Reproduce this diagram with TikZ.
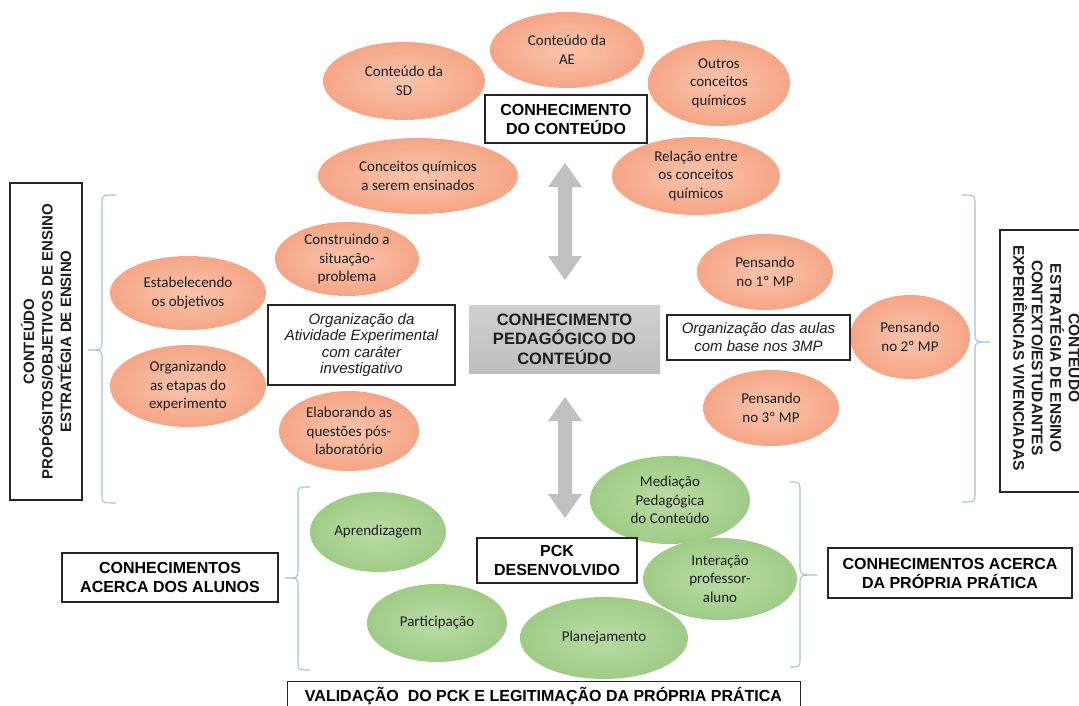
\documentclass[tikz,border=0pt]{standalone}
\usepackage{fontspec}
\setmainfont{Liberation Sans}
\newfontfamily\calibri{Carlito}
\usetikzlibrary{shapes.geometric,calc}
\definecolor{orin}{RGB}{250,196,172}
\definecolor{orout}{RGB}{245,166,134}
\definecolor{grin}{RGB}{186,219,164}
\definecolor{grout}{RGB}{160,204,134}
\definecolor{bracecol}{RGB}{157,195,230}
\definecolor{arrowgray}{RGB}{192,192,192}
\definecolor{txt}{RGB}{30,30,30}
\newcommand\mybrace[6]{% line x, end x, tip x, top y, tip y, bottom y
  \draw[bracestyle] (#2,#4) .. controls (#1,#4) .. (#1,#4+9) -- (#1,#5-9)
    .. controls (#1,#5) .. (#3,#5) .. controls (#1,#5) .. (#1,#5+9)
    -- (#1,#6-9) .. controls (#1,#6) .. (#2,#6);}
\newcommand\vdarrow[3]{% x, top y, bottom y
  \fill[arrowgray] (#1,#2) -- (#1+17,#2+24) -- (#1+7,#2+24) -- (#1+7,#3-24)
    -- (#1+17,#3-24) -- (#1,#3) -- (#1-17,#3-24) -- (#1-7,#3-24)
    -- (#1-7,#2+24) -- (#1-17,#2+24) -- cycle;}
\begin{document}
\begin{tikzpicture}[x=1pt,y=-1pt,
  bracestyle/.style={draw=bracecol, line width=1.1pt},
  ell/.style={ellipse, inner sep=0pt, align=center, text=txt,
    font=\calibri\fontsize{15}{18.5}\selectfont},
  oell/.style={ell, shading=radial, inner color=orin, outer color=orout},
  gell/.style={ell, shading=radial, inner color=grin, outer color=grout},
  kbox/.style={draw=black!85, line width=1.1pt, fill=white, align=center,
    font=\bfseries\fontsize{16}{19}\selectfont, inner sep=0pt},
  ibox/.style={draw=black!85, line width=1.1pt, fill=white, align=center,
    font=\itshape\fontsize{15}{16.5}\selectfont, inner sep=0pt, text=txt}]
\useasboundingbox (0,0) rectangle (1079,706);
\fill[white] (0,0) rectangle (1079,706);
\clip (0,0) rectangle (1079,706);

% braces
\mybrace{102}{116}{88}{195}{350}{503}
\mybrace{975}{962}{990}{195}{342}{502}
\mybrace{298}{310}{285}{487}{578}{670}
\mybrace{800}{790}{817}{482}{575}{667}

% arrows
\vdarrow{565}{163}{280}
\vdarrow{565}{397}{518}

% top ellipses
\node[oell, minimum width=162, minimum height=78] (sd) at (404,81) {Conteúdo da\\SD};
\node[oell, minimum width=154, minimum height=76] (ae) at (567,50) {Conteúdo da\\AE};
\node[oell, minimum width=142, minimum height=86] (outros) at (719,83) {Outros\\conceitos\\químicos};
\node[oell, minimum width=200, minimum height=76] (ensinar) at (418,176) {Conceitos químicos\\a serem ensinados};
\node[oell, minimum width=168, minimum height=78] (relacao) at (696,176) {Relação entre\\os conceitos\\químicos};
\node[kbox, minimum width=162, minimum height=48] (cc) at (566,119) {CONHECIMENTO\\DO CONTEÚDO};

% center
\node[minimum width=191, minimum height=68, top color={rgb,255:red,208;green,208;blue,208},
  bottom color={rgb,255:red,190;green,190;blue,190}, align=center, text=txt,
  font=\bfseries\fontsize{16.5}{19.5}\selectfont, inner sep=0pt] (pck) at (564.5,339)
  {CONHECIMENTO\\PEDAGÓGICO DO\\CONTEÚDO};

% left ellipses
\node[oell, minimum width=144, minimum height=74] (construindo) at (347,259) {Construindo a\\situação-\\problema};
\node[oell, minimum width=156, minimum height=74] (estab) at (188,293) {Estabelecendo\\os objetivos};
\node[oell, minimum width=156, minimum height=82] (etapas) at (188,386) {Organizando\\as etapas do\\experimento};
\node[oell, minimum width=140, minimum height=80] (questoes) at (349,431) {Elaborando as\\questões pós-\\laboratório};
\node[ibox, minimum width=187, minimum height=80] (orgae) at (361.5,345) {Organização da\\Atividade Experimental\\com caráter\\investigativo};

% right ellipses
\node[oell, minimum width=136, minimum height=76] (mp1) at (765,272) {Pensando\\no 1º MP};
\node[oell, minimum width=120, minimum height=84] (mp2) at (910,337) {Pensando\\no 2º MP};
\node[oell, minimum width=136, minimum height=76] (mp3) at (771,408) {Pensando\\no 3º MP};
\node[ibox, minimum width=183, minimum height=45, font=\itshape\fontsize{15}{18}\selectfont] (orgaulas) at (758.5,337.5) {Organização das aulas\\com base nos 3MP};

% side boxes
\node[draw=black!85, line width=1.1pt, minimum width=72, minimum height=317, inner sep=0pt] (leftbox) at (46,341.5) {};
\node[rotate=90, align=center, text=txt, font=\bfseries\fontsize{15}{18.5}\selectfont] (lefttxt) at (leftbox.center) {CONTEÚDO\\PROPÓSITOS/OBJETIVOS DE ENSINO\\ESTRATÉGIA DE ENSINO};
\node[draw=black!85, line width=1.1pt, minimum width=100, minimum height=262, inner sep=0pt] (rightbox) at (1050,361) {};
\node[rotate=-90, align=center, text=txt, font=\bfseries\fontsize{15.5}{18.5}\selectfont] (righttxt) at (1048,358) {CONTEÚDO\\ESTRATÉGIA DE ENSINO\\CONTEXTO/ESTUDANTES\\EXPERIÊNCIAS VIVENCIADAS};

% green ellipses
\node[gell, minimum width=136, minimum height=80] (aprend) at (378,532) {Aprendizagem};
\node[gell, minimum width=140, minimum height=78] (partic) at (437,623) {Participação};
\node[gell, minimum width=168, minimum height=82] (planej) at (604,638) {Planejamento};
\node[gell, minimum width=160, minimum height=88] (mediacao) at (670,500) {Mediação\\Pedagógica\\do Conteúdo};
\node[gell, minimum width=154, minimum height=82] (interacao) at (720,579) {Interação\\professor-\\aluno};
\node[kbox, minimum width=160, minimum height=45] (pckdes) at (557,560.5) {PCK\\DESENVOLVIDO};

% bottom boxes
\node[kbox, minimum width=216, minimum height=49] (alunos) at (170,577.5) {CONHECIMENTOS\\ACERCA DOS ALUNOS};
\node[kbox, minimum width=244, minimum height=50] (pratica) at (950,573) {CONHECIMENTOS ACERCA\\DA PRÓPRIA PRÁTICA};
\node[kbox, minimum width=513, minimum height=34, anchor=north west] (valid) at (287,681) {};
\node[text=black, font=\bfseries\fontsize{16}{19}\selectfont, anchor=base] (validtxt) at (543.5,701) {VALIDAÇÃO\ \ DO PCK E LEGITIMAÇÃO DA PRÓPRIA PRÁTICA};
\end{tikzpicture}
\end{document}
